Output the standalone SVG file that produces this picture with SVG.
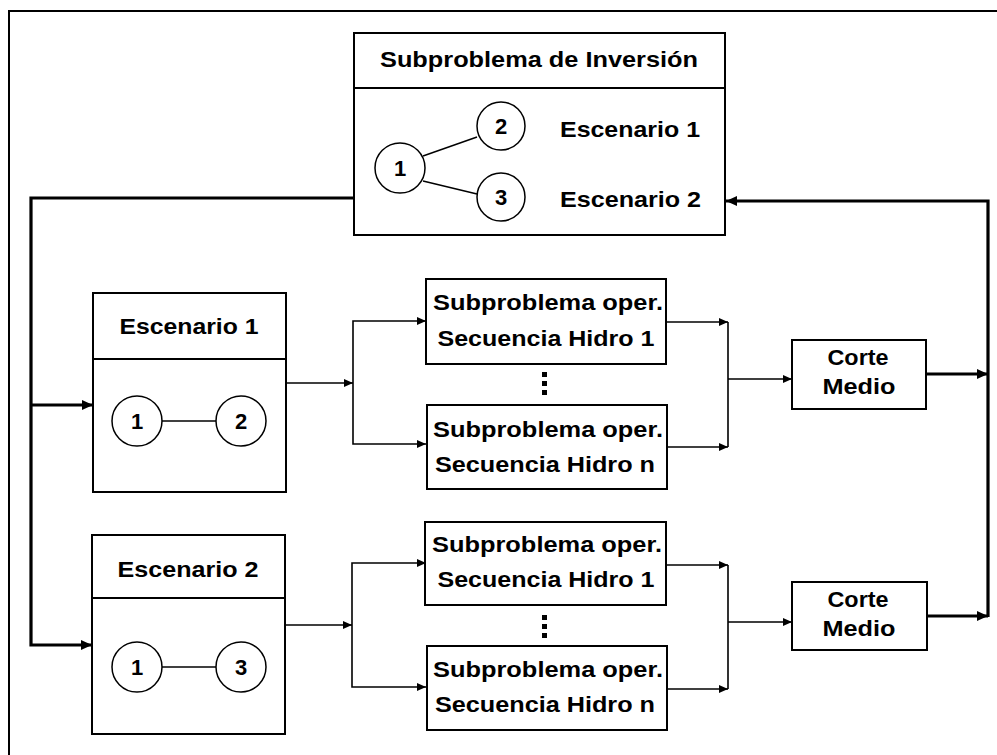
<svg xmlns="http://www.w3.org/2000/svg" width="997" height="755" viewBox="0 0 997 755">
<defs>
<style>
.box{fill:#fff;stroke:#000;stroke-width:2}
.div{stroke:#000;stroke-width:2}
.cir{fill:#fff;stroke:#000;stroke-width:1.5}
.edge{stroke:#000;stroke-width:1.5;fill:none}
.thin{fill:none;stroke:#000;stroke-width:1.6}
.thick{fill:none;stroke:#000;stroke-width:3.2}
text{font-family:"Liberation Sans",Arial,sans-serif;font-weight:bold;font-size:22px;fill:#000}
.c{text-anchor:middle}
</style>
<marker id="ah" markerWidth="9" markerHeight="8" refX="9" refY="4" orient="auto" markerUnits="userSpaceOnUse"><path d="M0,0 L9,4 L0,8 z" fill="#000"/></marker>
<marker id="ahT" markerWidth="11" markerHeight="10" refX="11" refY="5" orient="auto" markerUnits="userSpaceOnUse"><path d="M0,0 L11,5 L0,10 z" fill="#000"/></marker>
</defs>
<rect width="997" height="755" fill="#fff"/>
<path d="M9,760 V11 H1000" fill="none" stroke="#000" stroke-width="2"/>

<g id="connectors">
<path class="thick" d="M354,198 H31 V645 H92" marker-end="url(#ahT)"/>
<path class="thick" d="M31,405 H93" marker-end="url(#ahT)"/>
<path class="thick" d="M926,374 H988" marker-end="url(#ahT)"/>
<path class="thick" d="M928,616 H988" marker-end="url(#ahT)"/>
<path class="thick" d="M988,617 V201 H726" marker-end="url(#ahT)"/>
<path class="thin" d="M286,383 H353" marker-end="url(#ah)"/>
<path class="thin" d="M353,383 V321 H426" marker-end="url(#ah)"/>
<path class="thin" d="M353,383 V444 H426" marker-end="url(#ah)"/>
<path class="thin" d="M666,322 H728" marker-end="url(#ah)"/>
<path class="thin" d="M666,447 H728" marker-end="url(#ah)"/>
<path class="thin" d="M728,322 V447 M728,379 H792" marker-end="url(#ah)"/>
<path class="thin" d="M285,625 H352" marker-end="url(#ah)"/>
<path class="thin" d="M352,625 V563 H426" marker-end="url(#ah)"/>
<path class="thin" d="M352,625 V687 H426" marker-end="url(#ah)"/>
<path class="thin" d="M666,565 H728" marker-end="url(#ah)"/>
<path class="thin" d="M666,689 H728" marker-end="url(#ah)"/>
<path class="thin" d="M728,565 V689 M728,622 H792" marker-end="url(#ah)"/>
</g>

<g id="top-box">
<rect class="box" x="354" y="33" width="371" height="202"/>
<line class="div" x1="354" y1="88" x2="725" y2="88"/>
<text x="539" y="67" class="c" textLength="318" lengthAdjust="spacingAndGlyphs">Subproblema de Inversión</text>
<line class="edge" x1="423" y1="156" x2="477" y2="137"/>
<line class="edge" x1="423" y1="181" x2="477" y2="194"/>
<g id="top-n1"><circle class="cir" cx="400" cy="168" r="25"/><text x="400" y="176" class="c">1</text></g>
<g id="top-n2"><circle class="cir" cx="501" cy="126" r="24"/><text x="501" y="134" class="c">2</text></g>
<g id="top-n3"><circle class="cir" cx="501" cy="197" r="24"/><text x="501" y="205" class="c">3</text></g>
<text x="560" y="137" textLength="140" lengthAdjust="spacingAndGlyphs">Escenario 1</text>
<text x="560" y="207" textLength="141" lengthAdjust="spacingAndGlyphs">Escenario 2</text>
</g>

<g id="escenario1">
<rect class="box" x="93" y="293" width="193" height="199"/>
<line class="div" x1="93" y1="359" x2="286" y2="359"/>
<text x="189" y="334" class="c" textLength="139" lengthAdjust="spacingAndGlyphs">Escenario 1</text>
<line class="edge" x1="162" y1="421" x2="216" y2="421"/>
<circle class="cir" cx="137" cy="421" r="25"/><text x="137" y="429" class="c">1</text>
<circle class="cir" cx="241" cy="421" r="25"/><text x="241" y="429" class="c">2</text>
</g>

<g id="escenario2">
<rect class="box" x="92" y="535" width="193" height="199"/>
<line class="div" x1="92" y1="598" x2="285" y2="598"/>
<text x="188" y="577" class="c" textLength="141" lengthAdjust="spacingAndGlyphs">Escenario 2</text>
<line class="edge" x1="162" y1="667" x2="216" y2="667"/>
<circle class="cir" cx="137" cy="667" r="25"/><text x="137" y="675" class="c">1</text>
<circle class="cir" cx="241" cy="667" r="25"/><text x="241" y="675" class="c">3</text>
</g>

<g id="sub-e1-h1">
<rect class="box" x="426" y="279" width="240" height="85"/>
<text x="548" y="310" class="c" textLength="230" lengthAdjust="spacingAndGlyphs">Subproblema oper.</text>
<text x="546" y="346" class="c" textLength="217" lengthAdjust="spacingAndGlyphs">Secuencia Hidro 1</text>
</g>
<g id="dots-e1" fill="#000">
<rect x="542" y="372" width="5" height="5"/><rect x="542" y="381" width="5" height="5"/><rect x="542" y="390" width="5" height="5"/>
</g>
<g id="sub-e1-hn">
<rect class="box" x="427" y="405" width="240" height="84"/>
<text x="548" y="437" class="c" textLength="230" lengthAdjust="spacingAndGlyphs">Subproblema oper.</text>
<text x="545" y="472" class="c" textLength="220" lengthAdjust="spacingAndGlyphs">Secuencia Hidro n</text>
</g>

<g id="sub-e2-h1">
<rect class="box" x="425" y="522" width="241" height="83"/>
<text x="547" y="552" class="c" textLength="230" lengthAdjust="spacingAndGlyphs">Subproblema oper.</text>
<text x="546" y="587" class="c" textLength="217" lengthAdjust="spacingAndGlyphs">Secuencia Hidro 1</text>
</g>
<g id="dots-e2" fill="#000">
<rect x="542" y="615" width="5" height="5"/><rect x="542" y="624" width="5" height="5"/><rect x="542" y="633" width="5" height="5"/>
</g>
<g id="sub-e2-hn">
<rect class="box" x="427" y="646" width="240" height="84"/>
<text x="548" y="677" class="c" textLength="230" lengthAdjust="spacingAndGlyphs">Subproblema oper.</text>
<text x="545" y="712" class="c" textLength="220" lengthAdjust="spacingAndGlyphs">Secuencia Hidro n</text>
</g>

<g id="corte1">
<rect class="box" x="792" y="340" width="134" height="69"/>
<text x="858" y="365" class="c" textLength="61" lengthAdjust="spacingAndGlyphs">Corte</text>
<text x="859" y="394" class="c" textLength="73" lengthAdjust="spacingAndGlyphs">Medio</text>
</g>
<g id="corte2">
<rect class="box" x="792" y="582" width="135" height="68"/>
<text x="858" y="607" class="c" textLength="61" lengthAdjust="spacingAndGlyphs">Corte</text>
<text x="859" y="636" class="c" textLength="73" lengthAdjust="spacingAndGlyphs">Medio</text>
</g>
</svg>
